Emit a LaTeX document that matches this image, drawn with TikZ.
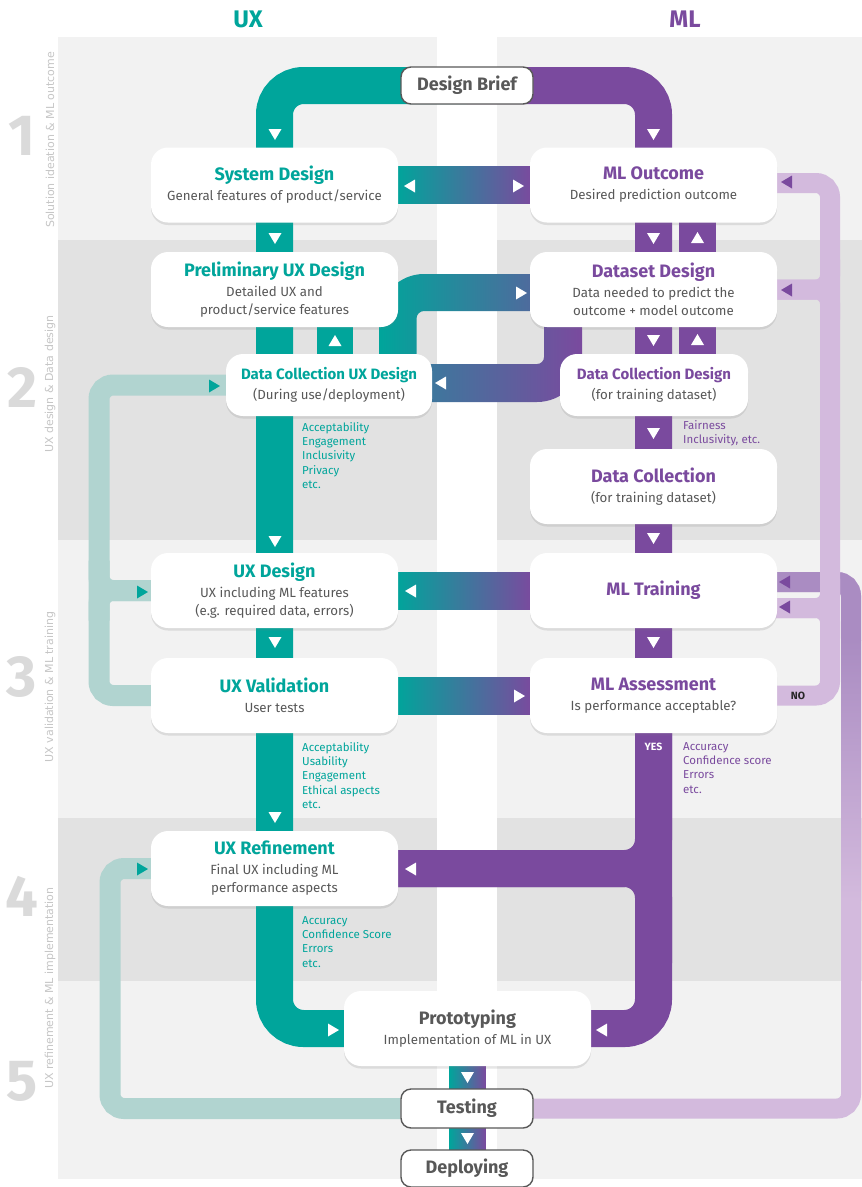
\documentclass[tikz,border=0pt]{standalone}
\usepackage{fontspec}
\setmainfont{Fira Sans}
\newfontfamily\labfont{DejaVu Sans}
\usetikzlibrary{shadows,calc}
\definecolor{ux}{RGB}{0,165,155}
\definecolor{ml}{RGB}{122,74,158}
\definecolor{lux}{RGB}{177,212,208}
\definecolor{lml}{RGB}{211,186,221}
\definecolor{mml}{RGB}{170,140,194}
\definecolor{bgA}{RGB}{242,242,242}
\definecolor{bgB}{RGB}{226,226,226}
\definecolor{txt}{RGB}{88,88,88}
\definecolor{numc}{RGB}{218,218,218}
\definecolor{labc}{RGB}{198,198,198}
\newcommand\boxttl[2]{{\color{#1}\fontsize{18}{20}\selectfont\bfseries #2}}
\newcommand\smttl[2]{{\color{#1}\fontsize{15}{17}\selectfont\bfseries #2}}
\tikzset{
  box/.style={fill=white, rounded corners=17, minimum width=247, minimum height=75,
    inner sep=0, align=center, text=txt, font=\fontsize{13.3}{18}\selectfont,
    drop shadow={shadow xshift=0pt, shadow yshift=-2.5pt, opacity=0.10}},
  pill/.style={draw=txt, line width=1.4, fill=white, rounded corners=10,
    minimum width=132, minimum height=37, inner sep=0, text=txt,
    font=\fontsize{18}{20}\selectfont\bfseries},
  uxpipe/.style={draw=ux, line width=37, rounded corners=29},
  mlpipe/.style={draw=ml, line width=37, rounded corners=29},
  luxpipe/.style={draw=lux, line width=21, rounded corners=14},
  lmlpipe/.style={draw=lml, line width=20, rounded corners=14},
  anno/.style={anchor=north west, align=left, inner sep=0, font=\fontsize{11.5}{14.3}\selectfont},
  sidelab/.style={rotate=90, text=labc, font=\labfont\fontsize{11}{12}\selectfont},
  bignum/.style={text=numc, font=\fontsize{58}{60}\selectfont\bfseries},
  tdn/.pic={\fill[#1] (-6.5,-5) -- (6.5,-5) -- (0,6) -- cycle;},
  tup/.pic={\fill[#1] (-6.5,5) -- (6.5,5) -- (0,-6) -- cycle;},
  tlt/.pic={\fill[#1] (5,-6.5) -- (5,6.5) -- (-6,0) -- cycle;},
  trt/.pic={\fill[#1] (-5,-6.5) -- (-5,6.5) -- (6,0) -- cycle;},
}
\begin{document}
\begin{tikzpicture}[x=1pt,y=-1pt]
\useasboundingbox (0,0) rectangle (862,1187);
\fill[white] (0,0) rectangle (862,1187);
% background bands
\foreach \ya/\yb/\c in {37/240/bgA, 240/540/bgB, 540/818/bgA, 818/981/bgB, 981/1179/bgA}{
  \fill[\c] (58,\ya) rectangle (437,\yb);
  \fill[\c] (497,\ya) rectangle (862,\yb);
}
% column titles
\node[text=ux, font=\fontsize{24}{26}\selectfont\bfseries] (tux) at (248,19) {UX};
\node[text=ml, font=\fontsize{24}{26}\selectfont\bfseries] (tml) at (685,19) {ML};
% side labels
\node[bignum] (n1) at (22,136) {1};
\node[bignum] (n2) at (22,387) {2};
\node[bignum] (n3) at (22,677) {3};
\node[bignum] (n4) at (22,896) {4};
\node[bignum] (n5) at (22,1081) {5};
\node[sidelab] (s1) at (50,140) {Solution ideation \& ML outcome};
\node[sidelab] (s2) at (50,384) {UX design \& Data design};
\node[sidelab] (s3) at (50,687) {UX validation \& ML training};
\node[sidelab] (s4) at (50,988) {UX refinement \& ML implementation};

% invisible copies of the boxes, for anchors of the pipes
\begin{scope}[opacity=0]
\node[pill] (brief) at (467,85.5) {Design Brief};
\node[box] (sysd) at (274.5,185) {};
\node[box] (mlo) at (653.5,185) {};
\node[box] (pux) at (274.5,289.5) {};
\node[box] (dsd) at (653.5,289.5) {};
\node[box, minimum width=206, minimum height=62] (dcux) at (329,385) {};
\node[box, minimum width=188, minimum height=62] (dcd) at (654,385) {};
\node[box] (dc) at (653.5,486.5) {};
\node[box] (uxd) at (274.5,590.5) {};
\node[box] (mlt) at (653.5,590.5) {};
\node[box] (uxv) at (274.5,695.5) {};
\node[box] (mla) at (653.5,695.5) {};
\node[box] (uxr) at (274.5,868.5) {};
\node[box] (proto) at (467.5,1028.5) {};
\node[pill, minimum height=39] (test) at (467,1108.5) {};
\node[pill] (deploy) at (467,1168.5) {};
\end{scope}

\coordinate (la) at (99,0);
\coordinate (lb) at (110,0);
\coordinate (lc) at (851,0);
\coordinate (ld) at (830,0);

% light teal loops
\draw[luxpipe] (dcux.west) -| (la |- uxv.west) -- ($(uxv.west)+(4,0)$);
\draw[luxpipe] ($(la |- uxd.west)+(0,-30)$) |- ($(uxd.west)+(4,0)$);
\draw[luxpipe] ($(la |- uxd.west)+(0,30)$) |- ($(uxd.west)+(4,0)$);
\draw[luxpipe] (test.west) -| (lb |- uxr.west) -- ($(uxr.west)+(4,0)$);

% light purple loops
\draw[lmlpipe] (test.east) -| ($(lc |- mlt.east)+(0,-8.5)$) -- ($(mlt.east)+(-4,-8.5)$);
\draw[line width=20, draw=mml, rounded corners=14] ($(lc |- mlt.east)+(0,50)$) |- ($(mlt.east)+(-4,-8.5)$);
\shade[top color=mml, bottom color=lml] (841,640) rectangle (861,900);
\draw[lmlpipe] (mla.east) -| ($(ld |- mlo.east)+(0,-2)$) -- ($(mlo.east)+(-4,-2)$);
\draw[lmlpipe] ($(ld |- dsd.east)+(0,-30)$) |- ($(dsd.east)+(-4,0)$);
\draw[lmlpipe] ($(ld |- dsd.east)+(0,30)$) |- ($(dsd.east)+(-4,0)$);
\draw[lmlpipe] ($(ld |- mlt.east)+(0,-12)$) |- ($(mlt.east)+(-4,17.5)$);
\draw[lmlpipe] ($(ld |- mlt.east)+(0,48)$) |- ($(mlt.east)+(-4,17.5)$);

% main pipes
\draw[uxpipe] (brief.center) -| (sysd.north) |- (proto.west);
\draw[mlpipe] (brief.center) -| (mlo.north) |- (proto.east);
\draw[mlpipe] (mla.south) |- (uxr.east);
\draw[mlpipe] ($(mla.south)+(0,230)$) |- (uxr.east);
% second (upward) pipes
\fill[ux] (317,320) rectangle (353,360);
\fill[ml] (679,215) rectangle (716,258);
\fill[ml] (679,320) rectangle (716,360);

% gradient connectors
\shade[left color=ux, right color=ml] ($(sysd.east)+(-2,-18.5)$) rectangle ($(mlo.west)+(2,18.5)$);
\shade[left color=ux, right color=ml] ($(uxd.east)+(-2,-18.5)$) rectangle ($(mlt.west)+(2,18.5)$);
\shade[left color=ux, right color=ml] ($(uxv.east)+(-2,-18.5)$) rectangle ($(mla.west)+(2,18.5)$);
\shade[left color=ux, right color=ux!35!ml] (379.5,358) -- (379.5,318.5)
   .. controls (379.5,293.9) and (399.4,274) .. (424,274) -- (533,274) -- (533,311) -- (424,311)
   .. controls (419.9,311) and (416.5,314.4) .. (416.5,318.5) -- (416.5,358) -- cycle;
\shade[left color=ux!50!ml, right color=ml] (582,322) -- (582,357)
   .. controls (582,381.9) and (561.9,402) .. (537,402) -- (428,402) -- (428,364) -- (537,364)
   .. controls (540.9,364) and (544,360.9) .. (544,357) -- (544,322) -- cycle;
\shade[left color=ux, right color=ml] ($(proto.south)+(-18.5,-5)$) rectangle ($(deploy.north)+(18.5,5)$);

% boxes
\node[pill] (brief) at (467,85.5) {Design Brief};
\node[box] (sysd) at (274.5,185) {\boxttl{ux}{System Design}\\[2pt]General features of product/service};
\node[box] (mlo) at (653.5,185) {\boxttl{ml}{ML Outcome}\\[2pt]Desired prediction outcome};
\node[box] (pux) at (274.5,289.5) {\boxttl{ux}{Preliminary UX Design}\\[2pt]Detailed UX and\\product/service features};
\node[box] (dsd) at (653.5,289.5) {\boxttl{ml}{Dataset Design}\\[2pt]Data needed to predict the\\outcome + model outcome};
\node[box, minimum width=206, minimum height=62] (dcux) at (329,385) {\smttl{ux}{Data Collection UX Design}\\[2pt](During use/deployment)};
\node[box, minimum width=188, minimum height=62] (dcd) at (654,385) {\smttl{ml}{Data Collection Design}\\[2pt](for training dataset)};
\node[box] (dc) at (653.5,486.5) {\boxttl{ml}{Data Collection}\\[2pt](for training dataset)};
\node[box] (uxd) at (274.5,590.5) {\boxttl{ux}{UX Design}\\[2pt]UX including ML features\\(e.g. required data, errors)};
\node[box] (mlt) at (653.5,590.5) {\boxttl{ml}{ML Training}};
\node[box] (uxv) at (274.5,695.5) {\boxttl{ux}{UX Validation}\\[2pt]User tests};
\node[box] (mla) at (653.5,695.5) {\boxttl{ml}{ML Assessment}\\[2pt]Is performance acceptable?};
\node[box] (uxr) at (274.5,868.5) {\boxttl{ux}{UX Refinement}\\[2pt]Final UX including ML\\performance aspects};
\node[box] (proto) at (467.5,1028.5) {\boxttl{txt}{Prototyping}\\[2pt]Implementation of ML in UX};
\node[pill, minimum height=39] (test) at (467,1108.5) {Testing};
\node[pill] (deploy) at (467,1168.5) {Deploying};

% arrows
\foreach \p in {(275,134),(275,238),(275,541),(275,642),(275,817)} {\pic at \p {tdn=white};}
\foreach \p in {(653.5,134),(653.5,238),(653.5,340),(653.5,433),(653.5,538),(653.5,642)} {\pic at \p {tdn=white};}
\foreach \p in {(697.5,238),(697.5,340),(335,341)} {\pic at \p {tup=white};}
\foreach \p in {(410,186),(441,383),(411,591),(411,869),(602,1030)} {\pic at \p {tlt=white};}
\foreach \p in {(518,186),(521,293),(519,696),(333,1030)} {\pic at \p {trt=white};}
\pic at (467.5,1077) {tdn=white};
\pic at (467.5,1138) {tdn=white};
\foreach \p in {(214,386),(142,592),(142,869)} {\pic at \p {trt=ux};}
\foreach \p in {(787,182),(787,290),(785,582),(785,607)} {\pic at \p {tlt=ml};}

% annotations
\node[anno, text=ux] (a1) at (302,422) {Acceptability\\Engagement\\Inclusivity\\Privacy\\etc.};
\node[anno, text=ux] (a2) at (302,742) {Acceptability\\Usability\\Engagement\\Ethical aspects\\etc.};
\node[anno, text=ux] (a3) at (302,916) {Accuracy\\Confidence Score\\Errors\\etc.};
\node[anno, text=ml] (a4) at (683,420) {Fairness\\Inclusivity, etc.};
\node[anno, text=ml] (a5) at (683,742) {Accuracy\\Confidence score\\Errors\\etc.};
\node[text=white, font=\fontsize{10.5}{12}\selectfont\bfseries] (yes) at (653.5,747) {YES};
\node[text=black!85, font=\fontsize{10.5}{12}\selectfont\bfseries] (no) at (798,696) {NO};
\end{tikzpicture}
\end{document}
